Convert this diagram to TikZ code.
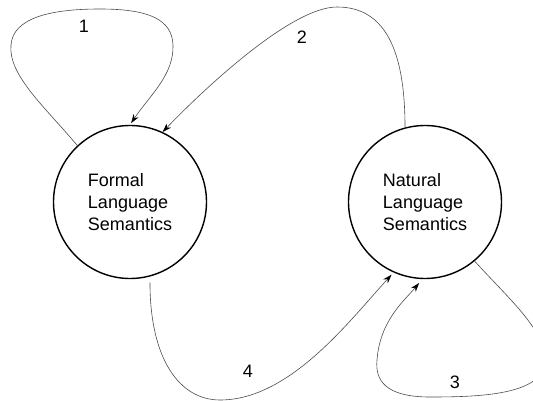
\documentclass[tikz,border=0pt]{standalone}
\usepackage{fontspec}
\setmainfont{Liberation Sans}
\usetikzlibrary{arrows.meta}
\begin{document}
\begin{tikzpicture}[x=1pt,y=-1pt,
  state/.style={circle,draw=black,line width=1.4pt,minimum size=153pt,inner sep=0pt,
    align=left,font=\fontsize{18}{22}\selectfont},
  link/.style={draw=black!70,line width=0.6pt},
  arr/.style={-{Stealth[length=9pt,width=6pt,color=black]}},
  lbl/.style={font=\fontsize{18}{22}\selectfont,inner sep=0pt}]
\clip (0,0) rectangle (533,401);
\node[state] (L) at (130,202) {Formal\\Language\\Semantics};
\node[state] (R) at (425,202) {Natural\\Language\\Semantics};
% curve 1 (loop on L)
\draw[link,arr,shorten >=2pt] (L.133) .. controls (45,107) and (8,75) .. (11,45)
  .. controls (13,18) and (50,9) .. (100,9)
  .. controls (150,9) and (172,20) .. (173,45)
  .. controls (174,75) and (150,95) .. (L.north);
% curve 2 (R -> L)
\draw[link,arr] (R.105) .. controls (405,50) and (385,7) .. (337,7)
  .. controls (290,7) and (200,93) .. (L.65);
% curve 3 (loop on R)
\draw[link,arr,shorten >=5pt] (R.-50) .. controls (510,300) and (545,330) .. (545,360)
  .. controls (545,395) and (480,397) .. (430,397)
  .. controls (385,397) and (375,380) .. (377,360)
  .. controls (380,320) and (405,300) .. (R.-92);
% curve 4 (L -> R)
\draw[link,arr,shorten <=6pt,shorten >=3pt] (L.-75) .. controls (150,360) and (180,400) .. (220,400)
  .. controls (290,400) and (350,320) .. (R.-114);
\node[lbl] (n1) at (84,26) {1};
\node[lbl] (n2) at (302,37) {2};
\node[lbl] (n3) at (455,382) {3};
\node[lbl] (n4) at (248,371) {4};
\end{tikzpicture}
\end{document}
